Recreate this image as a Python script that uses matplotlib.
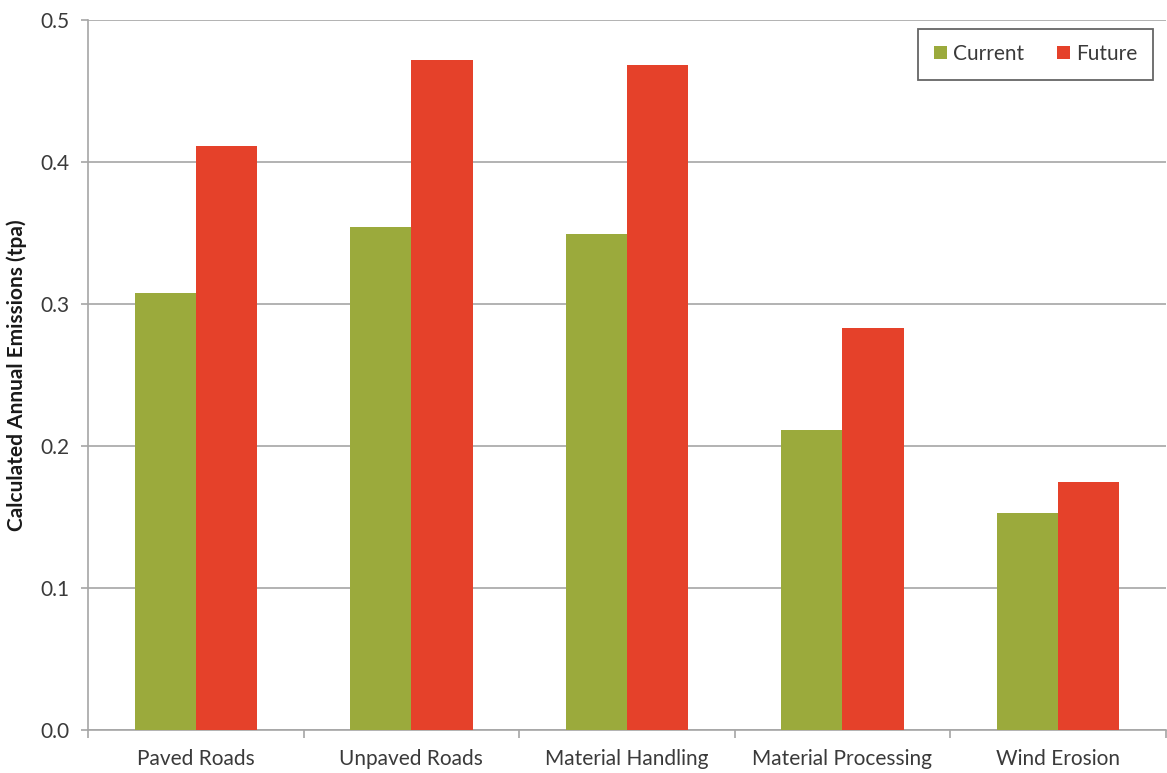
import matplotlib
matplotlib.use("Agg")
import matplotlib.pyplot as plt
import numpy as np

categories = ["Paved Roads", "Unpaved Roads", "Material Handling",
              "Material Processing", "Wind Erosion"]
current = [0.308, 0.354, 0.349, 0.211, 0.153]
future = [0.411, 0.472, 0.468, 0.283, 0.175]
yticks = [0.0, 0.1, 0.2, 0.3, 0.4, 0.5]

green = "#9BAA3C"
red = "#E5412A"
grid_gray = "#A6A6A6"
text_gray = "#3A3A3A"

plt.rcParams["font.family"] = ["Lato", "DejaVu Sans"]

fig = plt.figure(figsize=(11.67, 7.73), dpi=100)
ax = fig.add_axes([0.0754, 0.0556, 0.9236, 0.9185])

x = np.arange(len(categories))
w = 0.284
ax.bar(x - w / 2, current, w, color=green, label="Current", zorder=3)
ax.bar(x + w / 2, future, w, color=red, label="Future", zorder=3)

ax.set_xlim(-0.5, len(categories) - 0.5)
ax.set_ylim(0, 0.5)
ax.set_yticks(yticks)
ax.set_yticklabels([f"{v:.1f}" for v in yticks], fontsize=15, color=text_gray)
ax.set_xticks(x)
ax.set_xticklabels(categories, fontsize=15, color=text_gray)
ax.tick_params(axis="x", length=0, pad=14)
ax.tick_params(axis="y", length=5, color=grid_gray, width=1.2, pad=8)
ax.set_xticks(np.arange(len(categories) + 1) - 0.5, minor=True)
ax.tick_params(axis="x", which="minor", length=6, color=grid_gray, width=1.2)

ax.yaxis.grid(True, color=grid_gray, linewidth=1.2, zorder=0)
ax.set_axisbelow(True)
for s in ["top", "right"]:
    ax.spines[s].set_visible(False)
ax.spines["left"].set_color(grid_gray)
ax.spines["left"].set_linewidth(1.2)
ax.spines["bottom"].set_color(grid_gray)
ax.spines["bottom"].set_linewidth(1.2)

ax.set_ylabel("Calculated Annual Emissions (tpa)", fontsize=15,
              fontweight="bold", color="#1a1a1a", labelpad=10)

leg = ax.legend(loc="upper right", ncol=2, fontsize=15, frameon=True,
                fancybox=False, edgecolor="#404040", handlelength=0.6,
                handleheight=0.6, handletextpad=0.3, columnspacing=1.6,
                borderpad=0.75, borderaxespad=0, bbox_to_anchor=(0.988, 0.988))
leg.get_frame().set_linewidth(1.3)
for t in leg.get_texts():
    t.set_color(text_gray)

fig.savefig("out.png", dpi=100)
